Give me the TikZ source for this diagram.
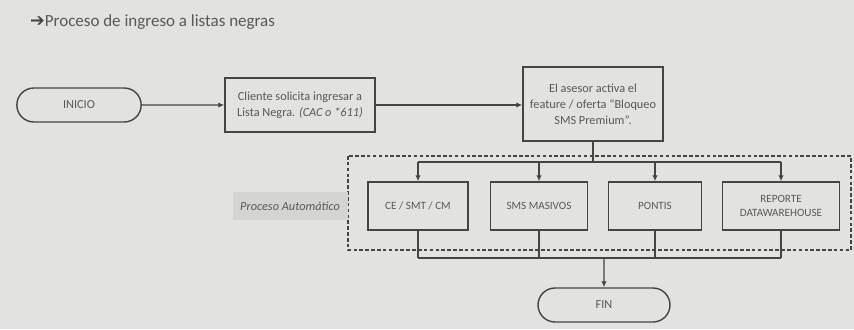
\documentclass[tikz,border=0pt]{standalone}
\usepackage{fontspec}
\setmainfont{Carlito}
\newfontfamily\arrowfont{DejaVu Sans}
\usetikzlibrary{arrows.meta,shapes.misc}
\definecolor{paper}{RGB}{226,226,223}
\definecolor{lineink}{RGB}{68,68,68}
\definecolor{textink}{RGB}{88,88,88}
\definecolor{tagfill}{RGB}{212,212,209}
\tikzset{
  procbox/.style={draw=lineink,line width=1.2pt,fill=paper,text=textink,align=center,
    font=\fontsize{10.5}{13.5}\selectfont,inner sep=2pt},
  rowbox/.style={procbox,font=\fontsize{9.5}{12}\selectfont},
  termbox/.style={procbox,rounded rectangle},
  link/.style={draw=lineink,line width=1pt},
  flow/.style={link,-{Latex[length=1.8mm,width=1.6mm]}}
}

\begin{document}
\begin{tikzpicture}[x=0.3mm,y=-0.3mm]
  \fill[paper] (0,0) rectangle (854,329);
  \useasboundingbox (0,0) rectangle (854,329);
  \node[anchor=west,text=textink,font=\fontsize{14.5}{16}\selectfont] (titulo) at (26,22)
    {{\arrowfont\fontsize{15}{16}\selectfont\color{lineink}➔}Proceso de ingreso a listas negras};
  % fila superior
  \node[termbox,minimum width=38.7mm,minimum height=10.2mm] (inicio) at (79,105) {INICIO};
  \node[procbox,minimum width=45mm,minimum height=16.2mm] (cliente) at (300,105)
    {Cliente solicita ingresar a\\Lista Negra. \textit{(CAC o *611)}};
  \node[procbox,minimum width=42mm,minimum height=22.2mm] (asesor) at (593,104)
    {El asesor activa el\\feature / oferta ``Bloqueo\\SMS Premium''.};
  \draw[flow] (inicio) -- (cliente);
  \draw[flow] (cliente) -- (cliente -| asesor.west);
  % proceso automatico
  \draw[lineink,densely dashed,line width=0.9pt] (348,156) rectangle (851,250);
  \node[fill=tagfill,text=textink,minimum width=34.5mm,minimum height=8.4mm,
    font=\fontsize{10.5}{12}\selectfont\itshape] (tag) at (290,206) {Proceso Automático};
  \foreach \n/\x/\w/\txt in {ce/418/30/{CE / SMT / CM},sms/539/29/SMS MASIVOS,
      pontis/655/28/PONTIS,reporte/781/35/{REPORTE\\DATAWAREHOUSE}}{
    \node[rowbox,minimum width=\w mm,minimum height=14.4mm] (\n) at (\x,206) {\txt};
  }
  \coordinate (split) at (593,162);
  \coordinate (merge) at (604,258);
  \draw[link] (asesor) -- (split);
  \draw[link] (ce |- split) -- (reporte |- split);
  \foreach \n in {ce,sms,pontis,reporte}{
    \draw[flow] (\n |- split) -- (\n.north);
    \draw[link] (\n.south) -- (\n |- merge);
  }
  \draw[link] (ce |- merge) -- (reporte |- merge);
  \node[termbox,minimum width=41mm,minimum height=10.2mm] (fin) at (604,305) {FIN};
  \draw[flow] (merge) -- (fin);
\end{tikzpicture}
\end{document}
